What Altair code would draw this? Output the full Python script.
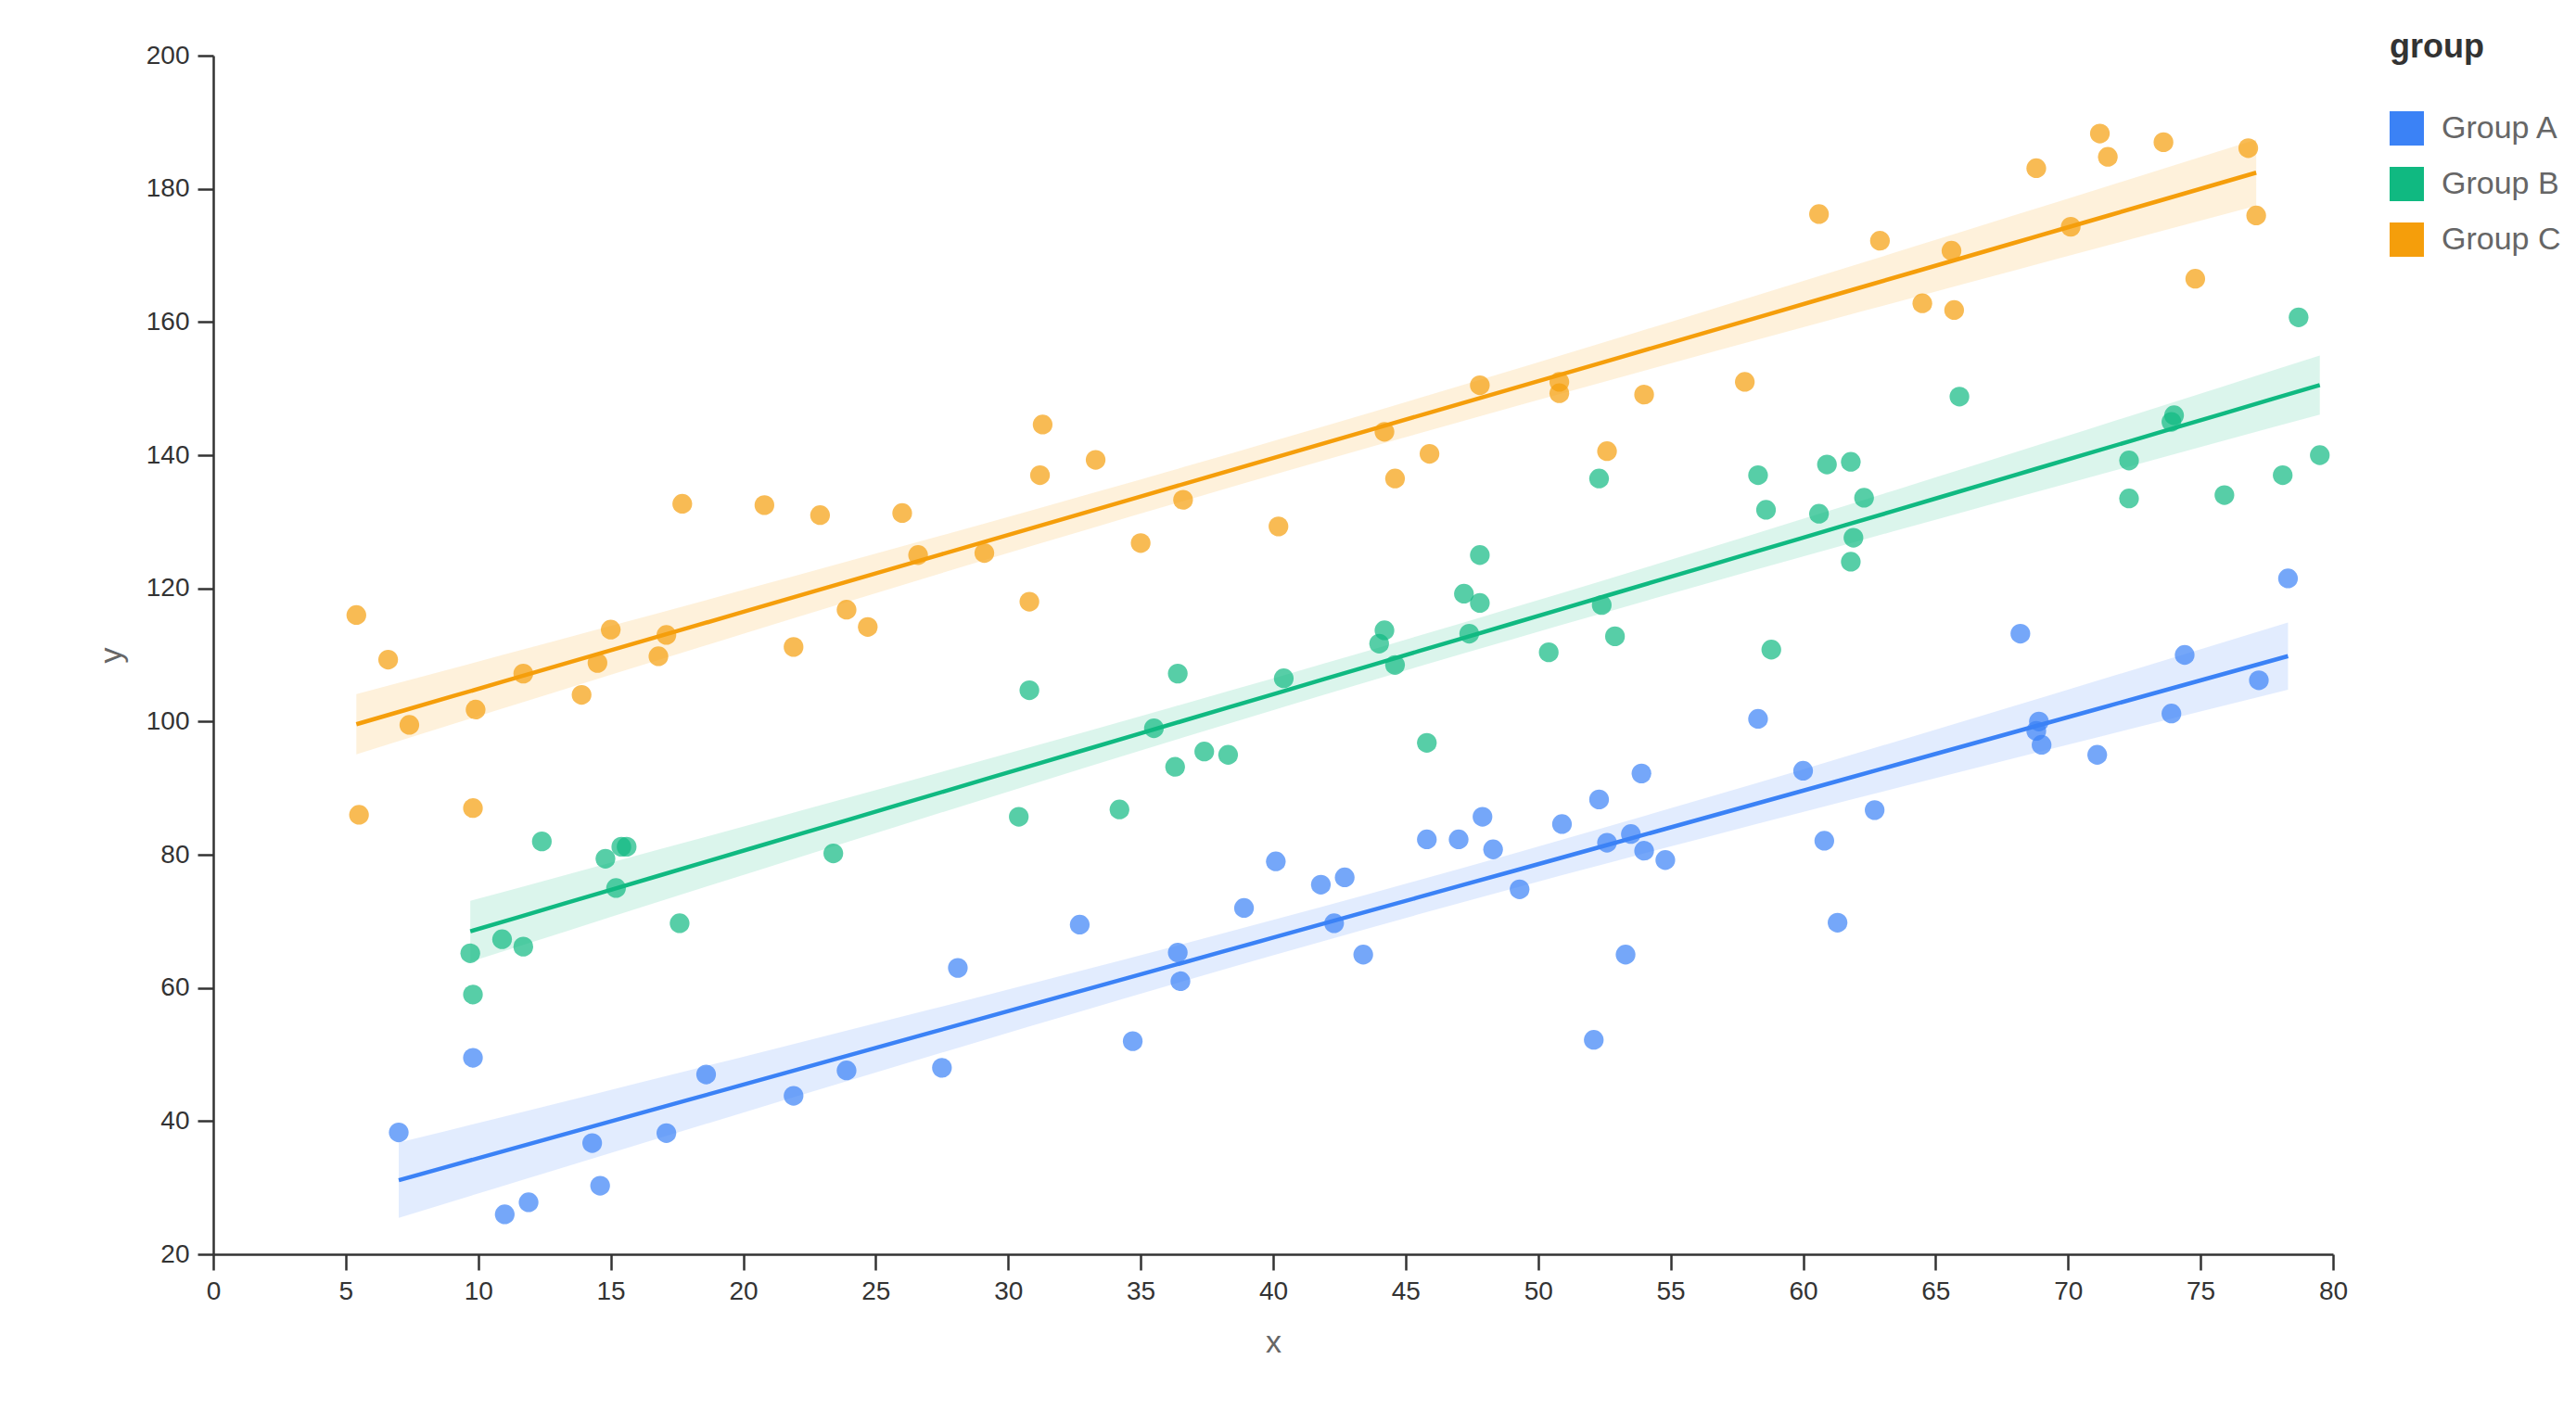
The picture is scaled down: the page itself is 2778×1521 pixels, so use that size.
import altair as alt
import numpy as np
import pandas as pd

GROUPS = ["Group A", "Group B", "Group C"]
COLORS = ["#3b82f6", "#10b981", "#f59e0b"]
X_TICKS = list(range(0, 81, 5))
Y_TICKS = list(range(20, 201, 20))

A_X = [7.0, 9.8, 11.0, 11.9, 14.3, 14.6, 17.1, 18.6, 21.9, 23.9, 27.5, 28.1, 32.7, 34.7,
       36.4, 36.5, 38.9, 40.1, 41.8, 42.3, 42.7, 43.4, 45.8, 47.0, 47.9, 48.3, 49.3, 50.9,
       52.1, 52.3, 52.6, 53.3, 53.5, 53.9, 54.0, 54.8, 58.3, 60.0, 60.8, 61.3, 62.7, 68.2,
       68.8, 68.9, 69.0, 71.1, 73.9, 74.4, 77.2, 78.3]
A_Y = [38.3, 49.5, 26.0, 27.8, 36.7, 30.3, 38.2, 47.0, 43.8, 47.6, 48.0, 63.0, 69.5, 52.0,
       65.3, 61.0, 72.0, 79.0, 75.5, 69.7, 76.6, 65.0, 82.3, 82.3, 85.7, 80.8, 74.8, 84.6,
       52.2, 88.3, 81.8, 65.0, 83.1, 92.2, 80.6, 79.2, 100.4, 92.6, 82.1, 69.8, 86.7, 113.2,
       98.6, 100.0, 96.5, 95.0, 101.2, 110.0, 106.2, 121.5]

B_X = [9.7, 9.8, 10.9, 11.7, 12.4, 14.8, 15.2, 15.4, 15.6, 17.6, 23.4, 30.4, 30.8, 34.2,
       35.5, 36.3, 36.4, 37.4, 38.3, 40.4, 44.0, 44.2, 44.6, 45.8, 47.2, 47.4, 47.8, 47.8,
       50.4, 52.3, 52.4, 52.9, 58.3, 58.6, 58.8, 60.6, 60.9, 61.8, 61.9, 61.8, 62.3, 65.9,
       72.3, 72.3, 73.9, 74.0, 75.9, 78.1, 78.7, 79.5]
B_Y = [65.2, 59.0, 67.3, 66.2, 82.0, 79.4, 75.0, 81.2, 81.2, 69.7, 80.2, 85.7, 104.7, 86.8,
       99.0, 93.2, 107.2, 95.5, 95.0, 106.5, 111.7, 113.7, 108.5, 96.8, 119.2, 113.2, 117.8, 125.0,
       110.4, 136.5, 117.5, 112.8, 137.0, 131.8, 110.8, 131.2, 138.6, 139.0, 127.6, 124.0, 133.6, 148.8,
       139.2, 133.5, 145.0, 146.0, 134.0, 137.0, 160.7, 140.0]

C_X = [5.4, 5.5, 6.6, 7.4, 9.9, 9.8, 11.7, 13.9, 14.5, 15.0, 16.8, 17.1, 17.7, 20.8,
       21.9, 22.9, 23.9, 24.7, 26.0, 26.6, 29.1, 30.8, 31.2, 31.3, 33.3, 35.0, 36.6, 40.2,
       44.2, 44.6, 45.9, 47.8, 50.8, 50.8, 52.6, 54.0, 57.8, 60.6, 62.9, 64.5, 65.6, 65.7,
       68.8, 70.1, 71.2, 71.5, 73.6, 74.8, 76.8, 77.1]
C_Y = [116.0, 86.0, 109.3, 99.5, 101.8, 87.0, 107.2, 104.0, 108.8, 113.8, 109.8, 113.0, 132.7, 132.5,
       111.2, 131.0, 116.8, 114.2, 131.3, 125.0, 125.3, 118.0, 137.0, 144.6, 139.3, 126.8, 133.3, 129.3,
       143.5, 136.5, 140.2, 150.5, 151.0, 149.3, 140.6, 149.1, 151.0, 176.2, 172.2, 162.8, 170.7, 161.8,
       183.1, 174.3, 188.3, 184.8, 187.0, 166.5, 186.1, 176.0]

SERIES = [(GROUPS[0], A_X, A_Y), (GROUPS[1], B_X, B_Y), (GROUPS[2], C_X, C_Y)]

rows = []
for g, xs, ys in SERIES:
    for xv, yv in zip(xs, ys):
        rows.append({"group": g, "x": xv, "y": yv})
points = pd.DataFrame(rows)

# linear fit with 95% confidence band of the mean, computed from the data
T_CRIT = 2.011
fit_rows = []
for g, xs, ys in SERIES:
    x = np.array(xs)
    y = np.array(ys)
    n = len(x)
    b1, b0 = np.polyfit(x, y, 1)
    res = y - (b0 + b1 * x)
    s = np.sqrt(np.sum(res ** 2) / (n - 2))
    xbar = x.mean()
    sxx = np.sum((x - xbar) ** 2)
    for xv in np.linspace(x.min(), x.max(), 40):
        f = b0 + b1 * xv
        se = s * np.sqrt(1.0 / n + (xv - xbar) ** 2 / sxx)
        fit_rows.append({"group": g, "x": float(xv), "fit": float(f),
                         "lo": float(f - T_CRIT * se), "hi": float(f + T_CRIT * se)})
fits = pd.DataFrame(fit_rows)

xscale = alt.Scale(domain=[0, 80], nice=False, zero=False)
yscale = alt.Scale(domain=[20, 200], nice=False, zero=False)
cscale = alt.Scale(domain=GROUPS, range=COLORS)
LEGEND = alt.Legend(title="group", orient="none", legendX=2347, legendY=-26)

X = alt.X("x:Q", scale=xscale,
          axis=alt.Axis(values=X_TICKS, title="x", titlePadding=24, labelFlush=False))
Y_AX = alt.Axis(values=Y_TICKS, title="y", titlePadding=20, labelFlush=False)
COLOR = alt.Color("group:N", scale=cscale, legend=LEGEND)

band = alt.Chart(fits).mark_area(opacity=0.15).encode(
    x=X,
    y=alt.Y("lo:Q", scale=yscale, axis=Y_AX),
    y2="hi:Q",
    color=COLOR,
)

pts = alt.Chart(points).mark_circle(size=452, opacity=0.7).encode(
    x=X,
    y=alt.Y("y:Q", scale=yscale, axis=Y_AX),
    color=COLOR,
)

line = alt.Chart(fits).mark_line(strokeWidth=4.5).encode(
    x=X,
    y=alt.Y("fit:Q", scale=yscale, axis=Y_AX),
    color=COLOR,
)

chart = alt.layer(band, pts, line).properties(
    width=2286,
    height=1293,
    autosize=alt.AutoSizeParams(type="none"),
    padding={"left": 222, "top": 52, "right": 250, "bottom": 140},
).configure(
    font="Liberation Sans",
).configure_view(
    stroke=None,
).configure_axis(
    grid=False,
    domainColor="#333333",
    domainWidth=2.5,
    tickColor="#333333",
    tickWidth=2.5,
    tickSize=17,
    labelFontSize=28,
    labelColor="#333333",
    labelPadding=9,
    labelFont="Liberation Sans",
    titleFont="Liberation Sans",
    titleFontSize=34,
    titleColor="#666666",
    titleFontWeight="normal",
).configure_legend(
    titleFont="Liberation Sans",
    labelFont="Liberation Sans",
    titleFontSize=36,
    titleFontWeight="bold",
    titleColor="#333333",
    titlePadding=50,
    labelFontSize=34,
    labelColor="#666666",
    labelOffset=19,
    symbolType="square",
    symbolSize=1369,
    symbolStrokeWidth=0,
    symbolOpacity=1,
    rowPadding=23,
    padding=0,
)

chart.save("out.html", embed_options={"renderer": "svg", "actions": False})
